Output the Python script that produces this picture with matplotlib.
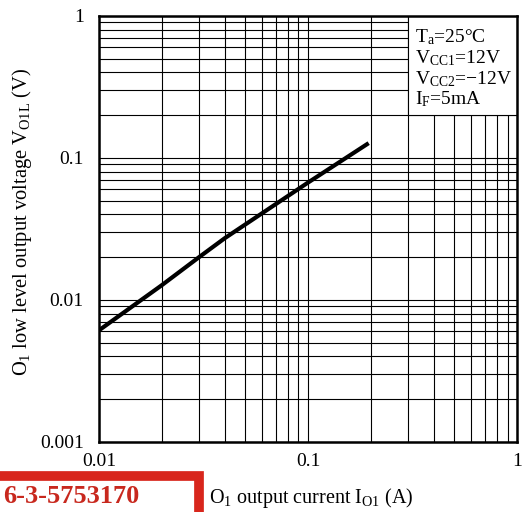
import matplotlib
matplotlib.use("Agg")
import matplotlib.pyplot as plt
from matplotlib.patches import Rectangle

plt.rcParams['font.family'] = ['Liberation Serif', 'DejaVu Serif']
plt.rcParams['mathtext.fontset'] = 'custom'
plt.rcParams['mathtext.rm'] = 'Liberation Serif'
plt.rcParams['mathtext.it'] = 'Liberation Serif:italic'

# Data
current_A = [0.01, 0.02, 0.03, 0.04, 0.1, 0.195]
voltage_V = [0.0061, 0.0127, 0.0199, 0.0272, 0.067, 0.127]

x_ticks = [0.01, 0.1, 1]
x_tick_labels = ["0.01", "0.1", "1"]
y_ticks = [0.001, 0.01, 0.1, 1]
y_tick_labels = ["0.001", "0.01", "0.1", "1"]

conditions = [r"T$_\mathrm{a}$=25°C",
              r"V$_\mathrm{CC1}$=12V",
              r"V$_\mathrm{CC2}$=−12V",
              r"I$_\mathrm{F}$=5mA"]

fig = plt.figure(figsize=(5.32, 5.12), dpi=100)
ax = fig.add_axes([0.186, 0.137, 0.786, 0.832])
ax.set_xscale('log')
ax.set_yscale('log')
ax.set_xlim(0.01, 1)
ax.set_ylim(0.001, 1)

ax.set_axisbelow(True)
ax.grid(which='both', color='black', linewidth=0.8)

# white box for conditions (covers grid)
ax.add_patch(Rectangle((0.3, 0.2), 0.7, 0.8, facecolor='white',
                       edgecolor='black', linewidth=0.8, zorder=1))

ax.plot(current_A, voltage_V, color='black', linewidth=3, zorder=3,
        solid_capstyle='butt')

ax.set_xticks(x_ticks)
ax.set_xticklabels(x_tick_labels)
ax.set_yticks(y_ticks)
ax.set_yticklabels(y_tick_labels)
ax.minorticks_on()
ax.tick_params(which='both', length=0, labelsize=14)
ax.tick_params(axis='x', pad=8)
ax.tick_params(axis='y', pad=11)
for s in ax.spines.values():
    s.set_linewidth(1.8)

baselines = [0.938, 0.889, 0.840, 0.792]
for t, yb in zip(conditions, baselines):
    ax.text(0.756, yb, t, fontsize=14, va='baseline', ha='left', zorder=4,
            transform=ax.transAxes)

fig.text(22 / 532, 1 - 222 / 512,
         r"O$_1$ low level output voltage V$_\mathrm{O1L}$ (V)", fontsize=14.8,
         rotation=90, ha='center', va='center')
fig.text(311 / 532, 1 - 498 / 512, r"O$_1$ output current I$_\mathrm{O1}$ (A)",
         fontsize=14.5, ha='center', va='center')

# red stamp bottom-left
fig.patches.append(Rectangle((-0.05, -0.05), 0.05 + 199 / 532, 0.05 + 36.5 / 512,
                             transform=fig.transFigure,
                             facecolor='white', edgecolor='#d8261c', linewidth=7,
                             figure=fig))
fig.text(3 / 532, 9 / 512, "6-3-5753170", fontsize=19, fontweight='bold',
         color='#c8281e', ha='left', va='baseline')

fig.savefig("out.png", dpi=100)
